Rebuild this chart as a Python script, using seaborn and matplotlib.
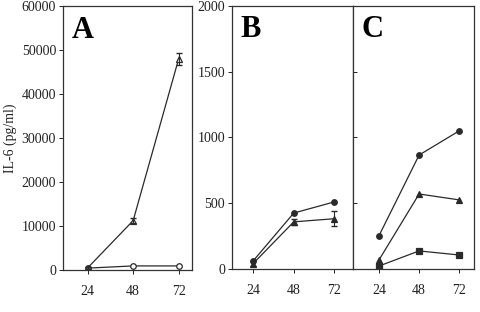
import matplotlib
matplotlib.use("Agg")
import matplotlib.pyplot as plt
import pandas as pd
import seaborn as sns

hours = [24, 48, 72]

# panel A
a_triangle = [450, 11200, 47950]
a_triangle_err = [300, 600, 1300]
a_circle = [400, 900, 900]

# panel B
b_circle = [60, 425, 510]
b_triangle = [40, 358, 382]
b_triangle_err = [20, 25, 57]

# panel C
c_circle = [252, 866, 1050]
c_triangle = [68, 570, 525]
c_square = [22, 137, 106]

sns.set_theme(style="white")
plt.rcParams["font.family"] = ["Liberation Serif", "DejaVu Serif"]

fig = plt.figure(figsize=(4.81, 3.12), dpi=100)
ax_a = fig.add_axes([0.131, 0.135, 0.268, 0.846])
ax_b = fig.add_axes([0.482, 0.138, 0.252, 0.843])
ax_c = fig.add_axes([0.734, 0.138, 0.252, 0.843])


def draw(ax, values, marker, filled, err=None):
    df = pd.DataFrame({"h": hours, "v": values})
    sns.lineplot(data=df, x="h", y="v", ax=ax, color="#2a2a2a", linewidth=0.9,
                 marker=marker, markersize=4 if marker != "s" else 3.8,
                 markerfacecolor="#2a2a2a" if filled else "white",
                 markeredgecolor="#2a2a2a", markeredgewidth=0.9)
    if err is not None:
        ax.errorbar(hours, values, yerr=err, fmt="none", ecolor="#2a2a2a",
                    elinewidth=0.8, capsize=2)


draw(ax_a, a_circle, "o", False)
draw(ax_a, a_triangle, "^", False, a_triangle_err)
draw(ax_b, b_circle, "o", True)
draw(ax_b, b_triangle, "^", True, b_triangle_err)
draw(ax_c, c_circle, "o", True)
draw(ax_c, c_triangle, "^", True)
draw(ax_c, c_square, "s", True)

ax_a.set_ylim(0, 60000)
ax_a.set_xlim(11, 79)
ax_a.set_yticks(range(0, 60001, 10000))
ax_b.set_ylim(0, 2000)
ax_b.set_xlim(11.5, 83)
ax_b.set_yticks(range(0, 2001, 500))
ax_c.set_ylim(0, 2000)
ax_c.set_xlim(8.5, 81)
ax_c.set_yticks(range(0, 2001, 500))
ax_c.set_yticklabels([])

for ax, letter in zip([ax_a, ax_b, ax_c], ["A", "B", "C"]):
    ax.set_xticks(hours)
    ax.set_xlabel("")
    ax.set_ylabel("")
    for s in ax.spines.values():
        s.set_color("#333333")
        s.set_linewidth(0.9)
    ax.tick_params(axis="both", which="major", labelsize=10, colors="#222222",
                   length=3, width=0.7, direction="out", left=True, bottom=True, pad=8)
    ax.tick_params(axis="y", pad=2)
    ax.text(0.07, 0.88, letter, transform=ax.transAxes, fontsize=22,
            fontweight="bold", color="black")

ax_c.tick_params(axis="y", direction="in", length=3)
ax_a.set_ylabel("IL-6 (pg/ml)", fontsize=10, labelpad=3, color="#222222")

fig.savefig("out.png", dpi=100)
